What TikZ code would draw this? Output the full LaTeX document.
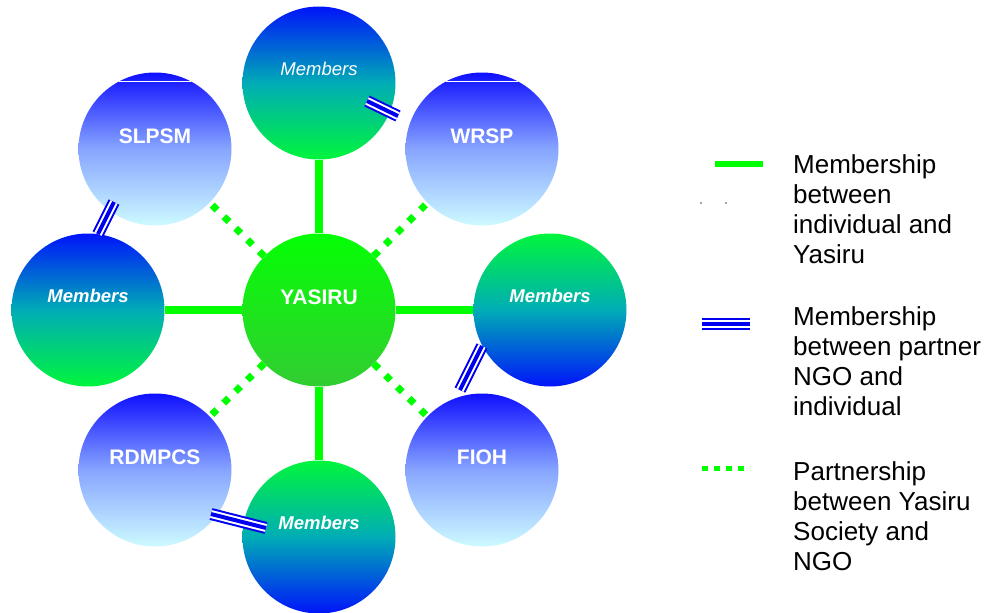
\documentclass[tikz,border=0pt]{standalone}
\usepackage{fontspec}
\setmainfont{Liberation Sans}
\usetikzlibrary{positioning}

\definecolor{linegreen}{RGB}{0,255,0}
\definecolor{ngoblue}{RGB}{0,0,240}
\definecolor{memblue}{RGB}{0,20,250}
\definecolor{memteal}{RGB}{0,172,182}
\definecolor{memgreen}{RGB}{0,245,60}
\definecolor{orgtop}{RGB}{15,15,255}
\definecolor{orgmid}{RGB}{135,165,255}
\definecolor{orgbot}{RGB}{205,250,255}
\definecolor{hubtop}{RGB}{5,255,5}
\definecolor{hubbot}{RGB}{50,205,50}

\begin{document}
\begin{tikzpicture}[x=1pt, y=-1pt,
    disc/.style={circle, minimum size=153pt, inner sep=0pt},
    hub/.style={disc, top color=hubtop, bottom color=hubbot},
    memdown/.style={disc, top color=memblue, bottom color=memgreen, middle color=memteal},
    memup/.style={disc, top color=memgreen, bottom color=memblue, middle color=memteal},
    org/.style={disc, top color=orgtop, bottom color=orgbot, middle color=orgmid},
    tag/.style={text=white, yshift=13pt, font=\fontsize{21}{25}\selectfont\bfseries},
    memtag/.style={text=white, yshift=14pt, font=\fontsize{18.5}{22}\selectfont\bfseries\itshape},
    member/.style={draw=linegreen, line width=7.5pt},
    partner/.style={draw=linegreen, line width=7pt, dash pattern=on 7pt off 9.5pt},
    ngo/.style={draw=ngoblue, line width=2pt, double=white, double distance=8pt},
    ngomid/.style={draw=ngoblue, line width=4pt},
    legend/.style={align=left, inner sep=0pt, anchor=north west, font=\fontsize{26}{30}\selectfont}]
          \useasboundingbox (0,0) rectangle (989,613);

          % circles
          \node[hub](yasiru)     at (319,310) [label={[tag]center:YASIRU}] {};
          \node[memdown](memT)   at (319,83)  [label={[memtag, font=\fontsize{18.5}{22}\selectfont\itshape]center:Members}] {};
          \node[memdown](memL)   at (88,310)  [label={[memtag]center:Members}] {};
          \node[memup](memR)     at (550,310) [label={[memtag]center:Members}] {};
          \node[memup](memB)     at (319,537) [label={[memtag]center:Members}] {};
          \node[org](slpsm)      at (155,149) [label={[tag]center:SLPSM}] {};
          \node[org](wrsp)       at (482,149) [label={[tag]center:WRSP}] {};
          \node[org](rdmpcs)     at (155,470) [label={[tag]center:RDMPCS}] {};
          \node[org](fioh)       at (482,470) [label={[tag]center:FIOH}] {};
          \draw[white, line width=1pt] (slpsm.118) -- (slpsm.62);
          \draw[white, line width=1pt] (wrsp.118) -- (wrsp.62);

          % short ends of the partner NGO links
          \coordinate (n1a) at (98,234);
          \coordinate (n1b) at (114,202);
          \coordinate (n2a) at (367,101);
          \coordinate (n2b) at (398,116);
          \coordinate (n3a) at (460,390);
          \coordinate (n3b) at (482,346);
          \coordinate (n4a) at (211,514);
          \coordinate (n4b) at (266,528);

          \path
            (yasiru) edge[member] (memT)
            (yasiru) edge[member] (memL)
            (yasiru) edge[member] (memR)
            (yasiru) edge[member] (memB)
            (yasiru) edge[partner] (slpsm)
            (yasiru) edge[partner] (wrsp)
            (yasiru) edge[partner] (rdmpcs)
            (yasiru) edge[partner] (fioh)
            (n1a) edge[ngo] (n1b)
            (n2a) edge[ngo] (n2b)
            (n3a) edge[ngo] (n3b)
            (n4a) edge[ngo] (n4b)
            (n1a) edge[ngomid] (n1b)
            (n2a) edge[ngomid] (n2b)
            (n3a) edge[ngomid] (n3b)
            (n4a) edge[ngomid] (n4b)
            ;

          % legend
          \coordinate (k1a) at (715,164);
          \coordinate (k1b) at (763,164);
          \coordinate (k2a) at (702,324);
          \coordinate (k2b) at (750,324);
          \coordinate (k3a) at (702,468);
          \coordinate (k3b) at (750,468);
          \path
            (k1a) edge[member, line width=6pt] (k1b)
            (k2a) edge[ngo] (k2b)
            (k2a) edge[ngomid] (k2b)
            (k3a) edge[partner, line width=5pt, dash pattern=on 5.7pt off 6.3pt] (k3b)
            ;
          \fill[black!70] (701,203) circle (0.8);
          \fill[black!70] (726,203) circle (0.8);
          \node[legend](txt1) at (793,154) {Membership\\between\\individual and\\Yasiru};
          \node[legend](txt2) at (793,306) {Membership\\between partner\\NGO and\\individual};
          \node[legend](txt3) at (793,461) {Partnership\\between Yasiru\\Society and\\NGO};
        \end{tikzpicture}
\end{document}
